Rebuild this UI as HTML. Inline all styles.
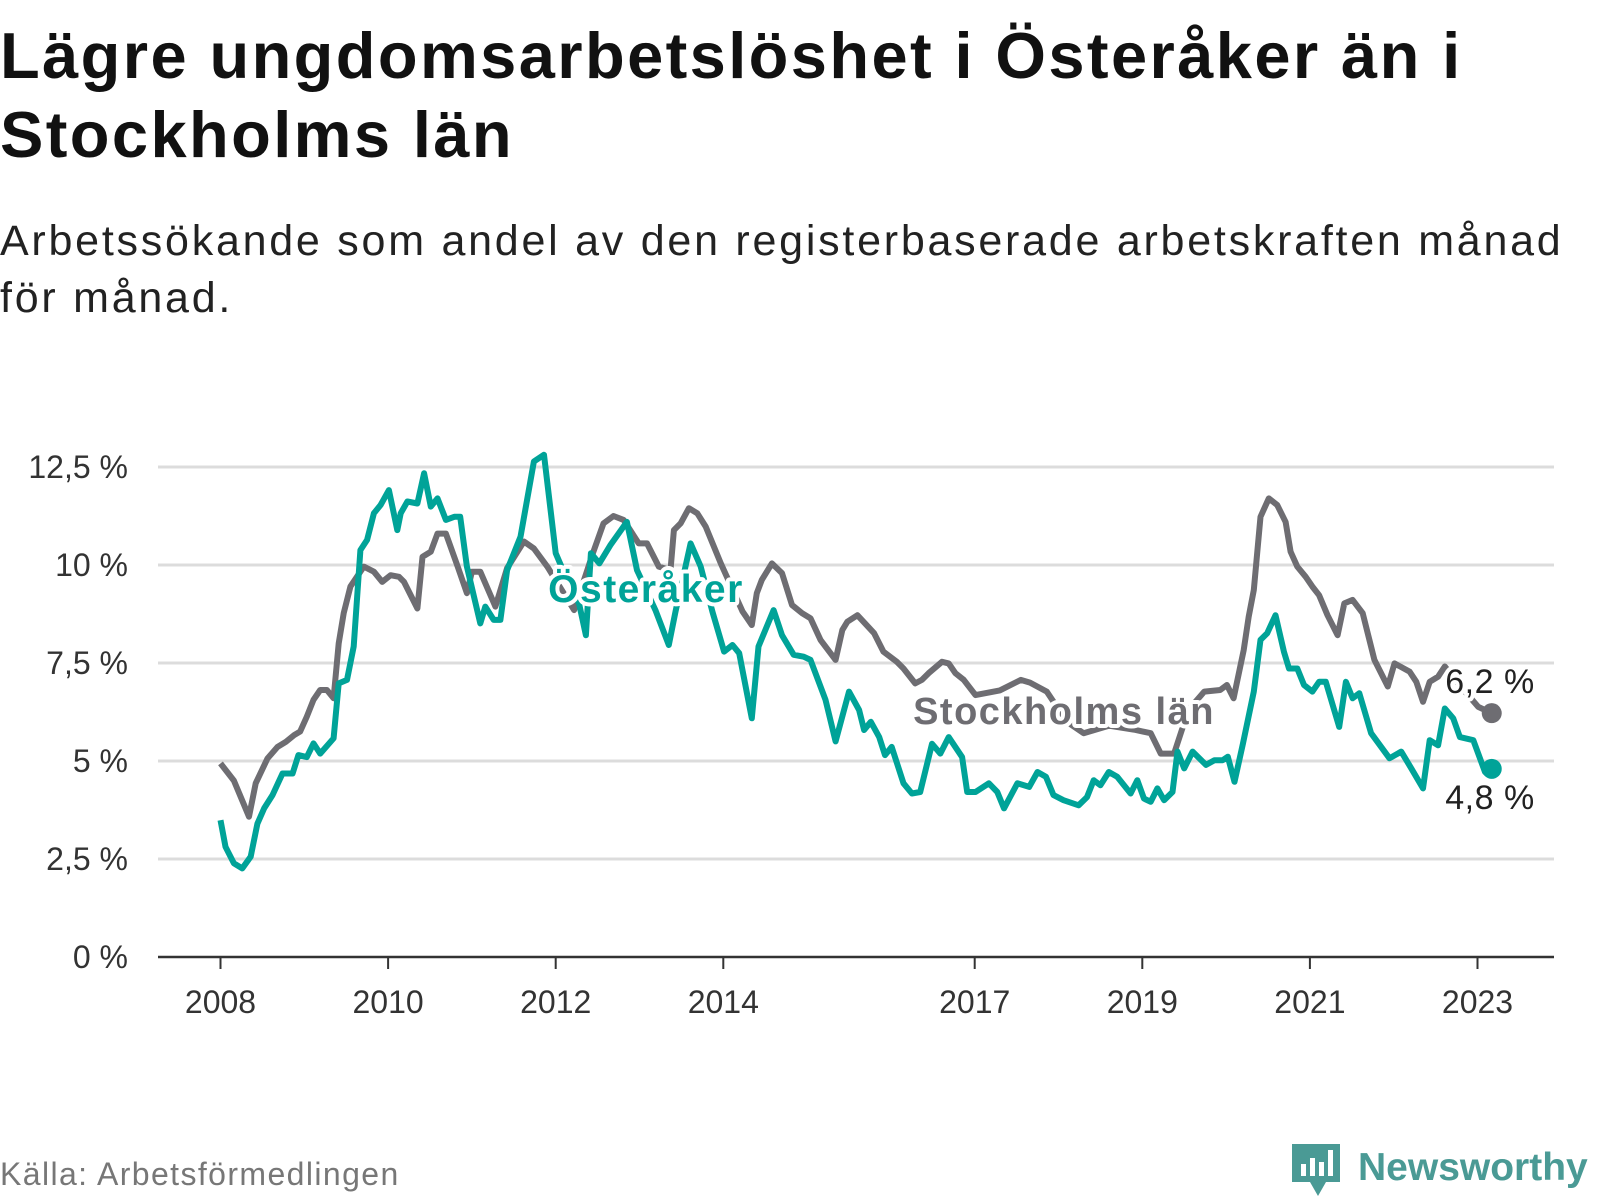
<!DOCTYPE html>
<html><head><meta charset="utf-8">
<style>
html,body{margin:0;padding:0;background:#fff;}
body{width:1600px;height:1200px;overflow:hidden;position:relative;font-family:"Liberation Sans",sans-serif;}
#title{position:absolute;left:0;top:16px;font-size:65px;font-weight:bold;line-height:79px;color:#111;letter-spacing:2.4px;}
#subtitle{position:absolute;left:0;top:213px;font-size:43px;line-height:57px;color:#222;letter-spacing:2.75px;}
#source{position:absolute;left:0;top:1156px;font-size:32px;color:#777;letter-spacing:1.4px;}
#brand{position:absolute;left:1290px;top:1140px;}
</style></head><body>
<div id="title">Lägre ungdomsarbetslöshet i Österåker än i<br>Stockholms län</div>
<div id="subtitle">Arbetssökande som andel av den registerbaserade arbetskraften månad<br>för månad.</div>
<svg id="chart" width="1600" height="1200" style="position:absolute;left:0;top:0"></svg>
<div id="source">Källa: Arbetsförmedlingen</div>
<svg id="brand" width="310" height="60">
<path d="M2 4h48v38H36l-8 14-8-14H2z" fill="#4a9a95"/>
<rect x="11" y="24" width="5" height="12" fill="#fff"/><rect x="20" y="18" width="5" height="18" fill="#fff"/><rect x="29" y="22" width="5" height="14" fill="#fff"/><rect x="38" y="10" width="5" height="26" fill="#fff"/>
<text x="68" y="40" font-family="Liberation Sans, sans-serif" font-weight="bold" font-size="39" fill="#4a9a95">Newsworthy</text>
</svg>
<script>
const yTicks=[0,2.5,5,7.5,10,12.5];
const yTickLabels=["0 %","2,5 %","5 %","7,5 %","10 %","12,5 %"];
const xTicks=[2008,2010,2012,2014,2017,2019,2021,2023];
const stockYears=[2008.0,2008.16,2008.34,2008.42,2008.56,2008.68,2008.78,2008.88,2008.95,2009.03,2009.11,2009.19,2009.27,2009.35,2009.41,2009.47,2009.55,2009.71,2009.83,2009.93,2010.03,2010.13,2010.19,2010.35,2010.41,2010.51,2010.59,2010.69,2010.83,2010.94,2011.0,2011.1,2011.28,2011.42,2011.62,2011.74,2011.9,2012.22,2012.45,2012.57,2012.69,2012.81,2012.99,2013.09,2013.23,2013.37,2013.41,2013.49,2013.59,2013.69,2013.79,2013.97,2014.23,2014.34,2014.40,2014.46,2014.58,2014.70,2014.82,2014.94,2015.04,2015.16,2015.34,2015.42,2015.48,2015.60,2015.80,2015.91,2016.07,2016.15,2016.29,2016.37,2016.45,2016.61,2016.69,2016.77,2016.87,2017.01,2017.3,2017.55,2017.66,2017.86,2018.1,2018.3,2018.6,2018.9,2019.1,2019.22,2019.38,2019.55,2019.74,2019.93,2020.01,2020.09,2020.21,2020.27,2020.33,2020.41,2020.51,2020.61,2020.71,2020.77,2020.85,2020.95,2021.03,2021.11,2021.21,2021.33,2021.41,2021.51,2021.63,2021.77,2021.93,2022.01,2022.19,2022.27,2022.35,2022.43,2022.53,2022.61,2022.8,2023.01,2023.17];
const stockValues=[4.94,4.5,3.58,4.43,5.06,5.36,5.49,5.66,5.75,6.13,6.56,6.81,6.81,6.6,8.0,8.77,9.45,9.96,9.83,9.57,9.74,9.7,9.57,8.89,10.21,10.34,10.8,10.8,9.96,9.28,9.83,9.83,8.94,9.92,10.6,10.42,9.96,8.85,10.34,11.06,11.25,11.15,10.55,10.55,9.96,9.87,10.89,11.06,11.45,11.32,10.98,10.04,8.81,8.47,9.28,9.62,10.04,9.79,8.98,8.77,8.64,8.09,7.58,8.34,8.55,8.72,8.26,7.79,7.53,7.36,6.98,7.07,7.24,7.53,7.49,7.24,7.07,6.68,6.8,7.07,7.0,6.77,6.0,5.71,5.9,5.8,5.71,5.19,5.19,6.3,6.77,6.81,6.94,6.6,7.83,8.68,9.36,11.23,11.7,11.53,11.1,10.34,9.96,9.7,9.45,9.23,8.72,8.21,9.02,9.11,8.77,7.58,6.9,7.49,7.28,7.02,6.51,7.02,7.15,7.41,6.9,6.38,6.22];
const ostYears=[2008.0,2008.06,2008.16,2008.26,2008.36,2008.44,2008.52,2008.62,2008.74,2008.86,2008.93,2009.03,2009.11,2009.19,2009.35,2009.41,2009.51,2009.59,2009.67,2009.75,2009.83,2009.91,2010.01,2010.11,2010.15,2010.23,2010.35,2010.43,2010.51,2010.59,2010.69,2010.79,2010.86,2010.94,2011.10,2011.16,2011.26,2011.34,2011.42,2011.58,2011.74,2011.86,2012.0,2012.1,2012.2,2012.28,2012.36,2012.42,2012.52,2012.65,2012.85,2012.97,2013.19,2013.35,2013.43,2013.61,2013.73,2013.87,2014.01,2014.11,2014.19,2014.34,2014.42,2014.60,2014.70,2014.84,2014.96,2015.04,2015.22,2015.34,2015.50,2015.62,2015.68,2015.76,2015.86,2015.93,2016.01,2016.15,2016.25,2016.35,2016.49,2016.59,2016.69,2016.85,2016.91,2017.01,2017.17,2017.27,2017.35,2017.51,2017.65,2017.75,2017.85,2017.94,2018.06,2018.24,2018.34,2018.42,2018.50,2018.60,2018.70,2018.86,2018.94,2019.02,2019.10,2019.18,2019.26,2019.36,2019.42,2019.50,2019.60,2019.76,2019.86,2019.96,2020.02,2020.10,2020.20,2020.33,2020.41,2020.49,2020.59,2020.69,2020.75,2020.85,2020.93,2021.03,2021.11,2021.19,2021.35,2021.43,2021.51,2021.59,2021.73,2021.95,2022.09,2022.21,2022.35,2022.43,2022.53,2022.61,2022.71,2022.79,2022.95,2023.09,2023.17];
const ostValues=[3.49,2.81,2.39,2.26,2.56,3.4,3.79,4.13,4.68,4.68,5.15,5.1,5.45,5.19,5.58,6.98,7.07,7.92,10.38,10.64,11.32,11.53,11.91,10.89,11.32,11.62,11.57,12.34,11.49,11.7,11.15,11.23,11.23,9.96,8.51,8.94,8.6,8.6,9.87,10.72,12.64,12.81,10.3,9.8,9.4,9.0,8.21,10.3,10.04,10.5,11.1,9.87,8.85,7.96,8.81,10.55,9.96,8.81,7.79,7.96,7.75,6.09,7.92,8.85,8.21,7.71,7.66,7.58,6.56,5.5,6.77,6.3,5.79,6.0,5.61,5.15,5.36,4.43,4.17,4.21,5.44,5.19,5.61,5.1,4.21,4.21,4.43,4.21,3.79,4.43,4.34,4.72,4.6,4.13,4.0,3.87,4.08,4.51,4.38,4.72,4.6,4.17,4.51,4.04,3.96,4.3,4.0,4.21,5.24,4.81,5.24,4.9,5.02,5.02,5.11,4.47,5.44,6.77,8.09,8.26,8.72,7.79,7.36,7.36,6.94,6.77,7.02,7.02,5.87,7.02,6.6,6.73,5.71,5.07,5.24,4.81,4.3,5.53,5.4,6.34,6.09,5.61,5.53,4.72,4.8];
const stockLast="6,2 %", ostLast="4,8 %";

const NS="http://www.w3.org/2000/svg";
const svg=document.getElementById('chart');
const X0=158,X1=1554;
function xs(yr){return 220.5+(yr-2008)*83.8;}
function ys(v){return 957-v*39.2;}
function el(tag,attrs,parent){const e=document.createElementNS(NS,tag);for(const k in attrs)e.setAttribute(k,attrs[k]);(parent||svg).appendChild(e);return e;}

yTicks.forEach((t,i)=>{
  if(t>0){const g=el('line',{x1:X0,x2:X1,y1:ys(t),y2:ys(t),stroke:'#dcdcdc','stroke-width':3});
  
  }
  const tx=el('text',{x:128,y:ys(t)+11,'text-anchor':'end','font-size':32,fill:'#333','font-family':'Liberation Sans, sans-serif'});
  tx.textContent=yTickLabels[i];
  
  
});
const ax=el('line',{x1:X0,x2:X1,y1:957,y2:957,stroke:'#333','stroke-width':2.5});


xTicks.forEach(yr=>{
  const tk=el('line',{x1:xs(yr),x2:xs(yr),y1:957,y2:969,stroke:'#333','stroke-width':2});
  
  
  const tx=el('text',{x:xs(yr),y:1013,'text-anchor':'middle','font-size':32,fill:'#333','font-family':'Liberation Sans, sans-serif'});
  tx.textContent=yr;
  
  
});
function pathD(xsArr,vals){return xsArr.map((y,i)=>(i?'L':'M')+xs(y).toFixed(1)+' '+ys(vals[i]).toFixed(1)).join(' ');}
const pS=el('path',{d:pathD(stockYears,stockValues),fill:'none',stroke:'#6e6d72','stroke-width':6,'stroke-linejoin':'round'});


const pO=el('path',{d:pathD(ostYears,ostValues),fill:'none',stroke:'#00a398','stroke-width':6,'stroke-linejoin':'round'});


const dS=el('circle',{cx:xs(stockYears[stockYears.length-1]),cy:ys(stockValues[stockValues.length-1]),r:10,fill:'#6e6d72'});


const dO=el('circle',{cx:xs(ostYears[ostYears.length-1]),cy:ys(ostValues[ostValues.length-1]),r:10,fill:'#00a398'});


function label(txt,x,y,fill,size,weight,name,ls){
  const t=el('text',{x:x,y:y,'text-anchor':'middle','font-size':size,'font-weight':weight,fill:fill,stroke:'#fff','stroke-width':8,'paint-order':'stroke','stroke-linejoin':'round','letter-spacing':ls,'font-family':'Liberation Sans, sans-serif'});
  t.textContent=txt;
  
  
}
label('Österåker',646,602,'#00a398',39,'bold','osteraker-label',1.5);
label('Stockholms län',1064,724,'#6e6d72',38,'bold','stockholms-lan-label',1.5);
label(stockLast,1490,693,'#222',34,'normal','stockholms-lan-value-label',0.5);
label(ostLast,1490,809,'#222',34,'normal','osteraker-value-label',0.5);
</script>
</body></html>
